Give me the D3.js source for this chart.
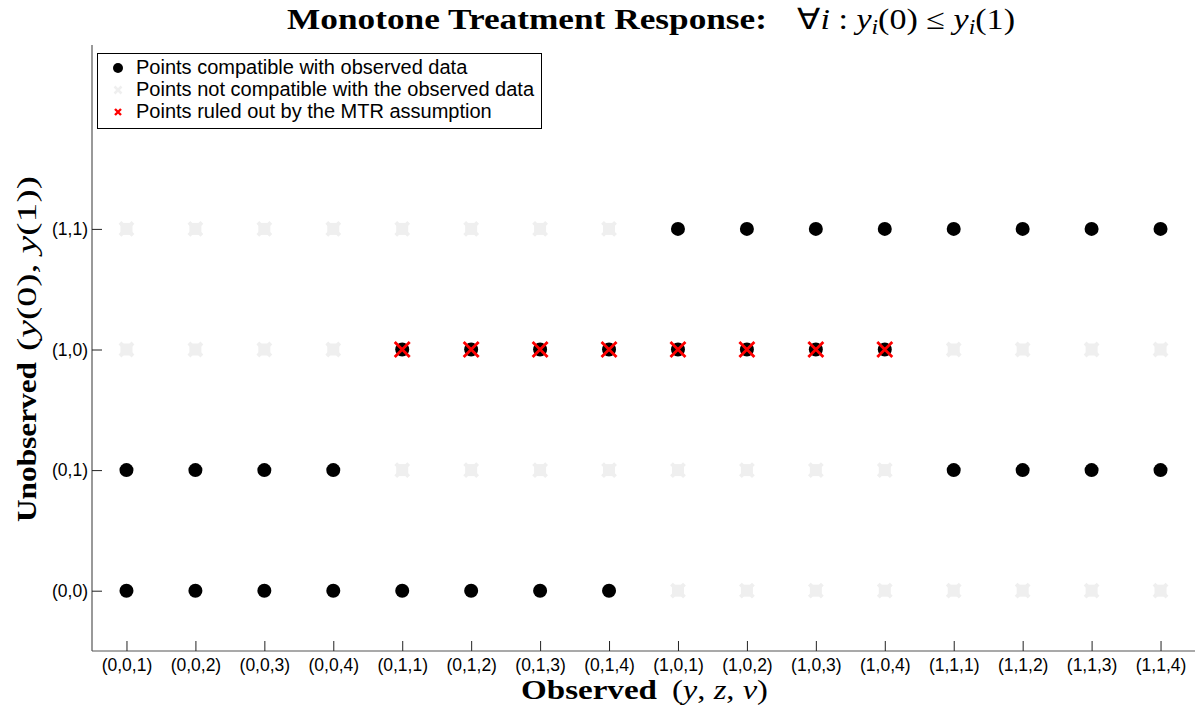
<!DOCTYPE html>
<html><head><meta charset="utf-8">
<script src="https://cdnjs.cloudflare.com/ajax/libs/d3/7.8.5/d3.min.js"></script>
<style>body{margin:0;background:#fff}</style>
</head><body>
<svg id="c" width="1200" height="711"></svg>
<script>
const xCategories = ["(0,0,1)","(0,0,2)","(0,0,3)","(0,0,4)","(0,1,1)","(0,1,2)","(0,1,3)","(0,1,4)","(1,0,1)","(1,0,2)","(1,0,3)","(1,0,4)","(1,1,1)","(1,1,2)","(1,1,3)","(1,1,4)"];
const yCategories = ["(0,0)","(0,1)","(1,0)","(1,1)"];
// status: 1 = compatible, 0 = not compatible, 2 = ruled out by MTR
const row00 = [1,1,1,1,1,1,1,1,0,0,0,0,0,0,0,0];
const row01 = [1,1,1,1,0,0,0,0,0,0,0,0,1,1,1,1];
const row10 = [0,0,0,0,2,2,2,2,2,2,2,2,0,0,0,0];
const row11 = [0,0,0,0,0,0,0,0,1,1,1,1,1,1,1,1];
const rows = [row00, row01, row10, row11];
const legendLabels = ["Points compatible with observed data","Points not compatible with the observed data","Points ruled out by the MTR assumption"];

(function(){
const svg = d3.select("#c");
const mLeft = 92, mRight = 1195, mTop = 48, mBottom = 651;
const x = d3.scaleLinear().domain([0.5, 16.5]).range([mLeft, mRight]);
const y = d3.scaleLinear().domain([0.5, 5.5]).range([mBottom, mTop]);

const points = [];
rows.forEach((r, j) => r.forEach((s, i) => points.push({xi: i + 1, yi: j + 1, s})));

const sans = "Liberation Sans, Arial, sans-serif";
const xAxis = d3.axisBottom(x).tickValues(d3.range(1, 17)).tickFormat(d => xCategories[d - 1]).tickSizeInner(-10).tickSizeOuter(0).tickPadding(8);
const gx = svg.append("g").attr("transform", `translate(0,${mBottom})`).call(xAxis);
const yAxis = d3.axisLeft(y).tickValues(d3.range(1, 5)).tickFormat(d => yCategories[d - 1]).tickSizeInner(-10).tickSizeOuter(0).tickPadding(4);
const gy = svg.append("g").attr("transform", `translate(${mLeft},0)`).call(yAxis);
[gx, gy].forEach(g => {
  g.attr("font-size", null).attr("font-family", null);
  g.selectAll("path.domain").attr("stroke", "#555").attr("stroke-width", 1.2);
  g.selectAll(".tick line").attr("stroke", "#222");
  g.selectAll("text").style("font-family", sans).style("font-size", "17.5px").attr("fill", "#000");
});
gx.select("path.domain").attr("d", `M${mLeft},0H${mRight}`);
gy.select("path.domain").attr("d", `M0,${mBottom}V45`);

function xMark(g, cx, cy, h, color, w) {
  g.append("path").attr("d", `M${cx-h},${cy-h}L${cx+h},${cy+h}M${cx-h},${cy+h}L${cx+h},${cy-h}`)
    .attr("stroke", color).attr("stroke-width", w).attr("fill", "none");
}
const gp = svg.append("g");
points.forEach(p => {
  const cx = x(p.xi), cy = y(p.yi);
  if (p.s === 0) {
    xMark(gp, cx, cy, 6.5, "#efefef", 4);
    gp.append("rect").attr("x", cx - 6).attr("y", cy - 6).attr("width", 12).attr("height", 12).attr("fill", "#efefef");
  } else {
    gp.append("circle").attr("cx", cx).attr("cy", cy).attr("r", 7).attr("fill", "#000");
    if (p.s === 2) xMark(gp, cx, cy, 7.5, "#ff0000", 2.8);
  }
});

const lg = svg.append("g");
lg.append("rect").attr("x", 97.5).attr("y", 53.5).attr("width", 444).attr("height", 75).attr("fill", "#fff").attr("stroke", "#000").attr("stroke-width", 1);
legendLabels.forEach((t, k) => {
  const ly = 68 + k * 22;
  if (k === 0) lg.append("circle").attr("cx", 118).attr("cy", ly).attr("r", 5).attr("fill", "#000");
  if (k === 1) { xMark(lg, 118, ly, 3.5, "#efefef", 2.5); }
  if (k === 2) { xMark(lg, 118, ly, 3, "#ff0000", 2.4); }
  lg.append("text").attr("x", 136).attr("y", ly + 6).style("font-family", sans).style("font-size", "20px").text(t);
});

const serif = "Liberation Serif, Times New Roman, serif";
// title
svg.append("text").attr("x", 287).attr("y", 29).attr("font-family", serif).attr("font-size", 29).attr("font-weight", "bold")
  .attr("textLength", 480).attr("lengthAdjust", "spacingAndGlyphs").text("Monotone Treatment Response:");
const tm = svg.append("text").attr("x", 797).attr("y", 29).attr("font-family", serif).attr("font-size", 29)
  .attr("textLength", 218).attr("lengthAdjust", "spacingAndGlyphs");
tm.append("tspan").text("\u2200");
tm.append("tspan").attr("font-style", "italic").text("i");
tm.append("tspan").text(" : ");
tm.append("tspan").attr("font-style", "italic").text("y");
tm.append("tspan").attr("font-style", "italic").attr("font-size", 20).attr("dy", 5).text("i");
tm.append("tspan").attr("dy", -5).text("(0) \u2264 ");
tm.append("tspan").attr("font-style", "italic").text("y");
tm.append("tspan").attr("font-style", "italic").attr("font-size", 20).attr("dy", 5).text("i");
tm.append("tspan").attr("dy", -5).text("(1)");

// x label
svg.append("text").attr("x", 521).attr("y", 699).attr("font-family", serif).attr("font-size", 28).attr("font-weight", "bold")
  .attr("textLength", 136).attr("lengthAdjust", "spacingAndGlyphs").text("Observed");
const xm = svg.append("text").attr("x", 672).attr("y", 699).attr("font-family", serif).attr("font-size", 28)
  .attr("textLength", 96).attr("lengthAdjust", "spacingAndGlyphs");
xm.append("tspan").text("(");
xm.append("tspan").attr("font-style", "italic").text("y");
xm.append("tspan").text(", ");
xm.append("tspan").attr("font-style", "italic").text("z");
xm.append("tspan").text(", ");
xm.append("tspan").attr("font-style", "italic").text("v");
xm.append("tspan").text(")");

// y label
const yg = svg.append("g").attr("transform", "translate(36,0) rotate(-90)");
yg.append("text").attr("x", -522).attr("y", 0).attr("font-family", serif).attr("font-size", 28).attr("font-weight", "bold")
  .attr("textLength", 160).attr("lengthAdjust", "spacingAndGlyphs").text("Unobserved");
const ym = yg.append("text").attr("x", -351).attr("y", 0).attr("font-family", serif).attr("font-size", 28)
  .attr("textLength", 175).attr("lengthAdjust", "spacingAndGlyphs");
ym.append("tspan").text("(");
ym.append("tspan").attr("font-style", "italic").text("y");
ym.append("tspan").text("(0), ");
ym.append("tspan").attr("font-style", "italic").text("y");
ym.append("tspan").text("(1))");
})();
</script>
</body></html>
